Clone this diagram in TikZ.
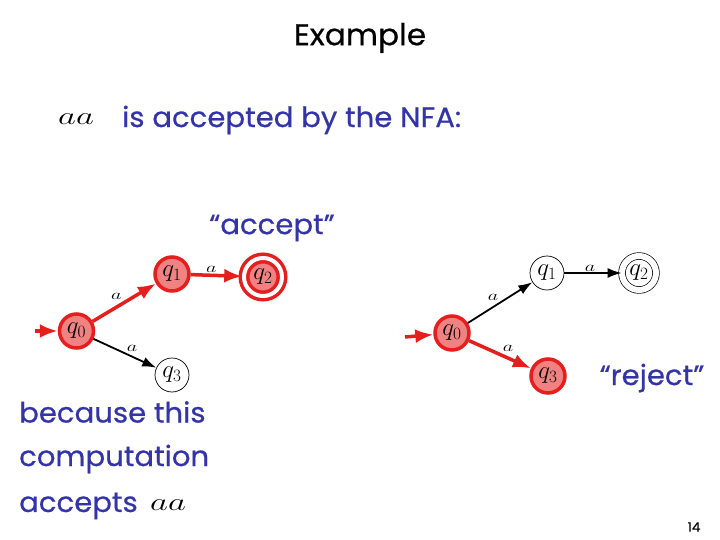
\documentclass[tikz,border=0pt]{standalone}
\usepackage{fontspec}
\setmainfont{Poppins}[FakeStretch=1.04,FakeBold=0.6]
\usetikzlibrary{arrows.meta}
\definecolor{txtblue}{RGB}{51,51,170}
\definecolor{redline}{RGB}{230,30,30}
\definecolor{redfill}{RGB}{240,130,130}
\newcommand{\mylab}[1]{\scalebox{1.4}[1]{$#1$}}
\tikzset{
  st/.style={circle,draw=black,line width=0.7pt,minimum size=34pt,inner sep=0pt,font=\fontsize{24}{24}\selectfont},
  rst/.style={st,draw=redline,fill=redfill,line width=3.5pt},
  acc/.style={double distance=5pt},
  racc/.style={rst,double=white,double distance=4pt,line width=3.5pt},
  blk/.style={-{Latex[length=14pt,width=10pt]},line width=1.8pt},
  red/.style={-{Latex[length=18pt,width=14pt]},line width=3.5pt,draw=redline},
  lab/.style={font=\fontsize{15}{15}\selectfont,inner sep=1pt},
  body/.style={text=txtblue,font=\fontsize{28}{30}\selectfont,inner sep=0pt},
  aa/.style={font=\fontsize{30}{30}\selectfont,inner sep=0pt},
}
\begin{document}
\begin{tikzpicture}[x=1pt,y=-1pt]
\useasboundingbox (0,0) rectangle (720,540);
% title and texts
\node[font=\fontsize{30}{30}\selectfont,inner sep=0pt] (title) at (360,38) {Example};
\node[aa] (aa1) at (76,119) {\mylab{aa}};
\node[body,anchor=west] (acc) at (122,120) {is accepted by the NFA:};
\node[body] (accept) at (272,228) {“accept”};
\node[body] (reject) at (652,378) {“reject”};
\node[body,anchor=west] (b1) at (19,412) {because this};
\node[body,anchor=west] (b2) at (19,459) {computation};
\node[body,anchor=west] (b3) at (19,506) {accepts};
\node[aa] (aa2) at (168,505) {\mylab{aa}};
\node[font=\fontsize{13}{13}\selectfont,inner sep=0pt] (pg) at (694,527) {14};
% left NFA
\node[rst] (a0) at (76.5,331) {$q_0$};
\node[rst] (a1) at (172,274) {$q_1$};
\node[racc,minimum size=38pt] (a2) at (263,277) {$q_2$};
\node[st] (a3) at (172,375) {$q_3$};
\coordinate (ai) at (35,331);
\draw[red] (ai) -- (a0);
\draw[red] (a0) -- node[lab,above left,text=black] {\mylab{a}} (a1);
\draw[red] (a1) -- node[lab,above,pos=0.4,text=black] {\mylab{a}} (a2);
\draw[blk] (a0) -- node[lab,above right] {\mylab{a}} (a3);
% right NFA
\node[rst] (b0) at (452,333) {$q_0$};
\node[st] (b1n) at (547,273) {$q_1$};
\node[st,acc,double distance=6pt] (b2n) at (639,273) {$q_2$};
\node[rst] (b3n) at (548,376) {$q_3$};
\coordinate (bi) at (405,337);
\draw[red] (bi) -- (b0);
\draw[blk] (b0) -- node[lab,above left] {\mylab{a}} (b1n);
\draw[blk] (b1n) -- node[lab,above,pos=0.45] {\mylab{a}} (b2n);
\draw[red] (b0) -- node[lab,above right,text=black] {\mylab{a}} (b3n);
\end{tikzpicture}
\end{document}
